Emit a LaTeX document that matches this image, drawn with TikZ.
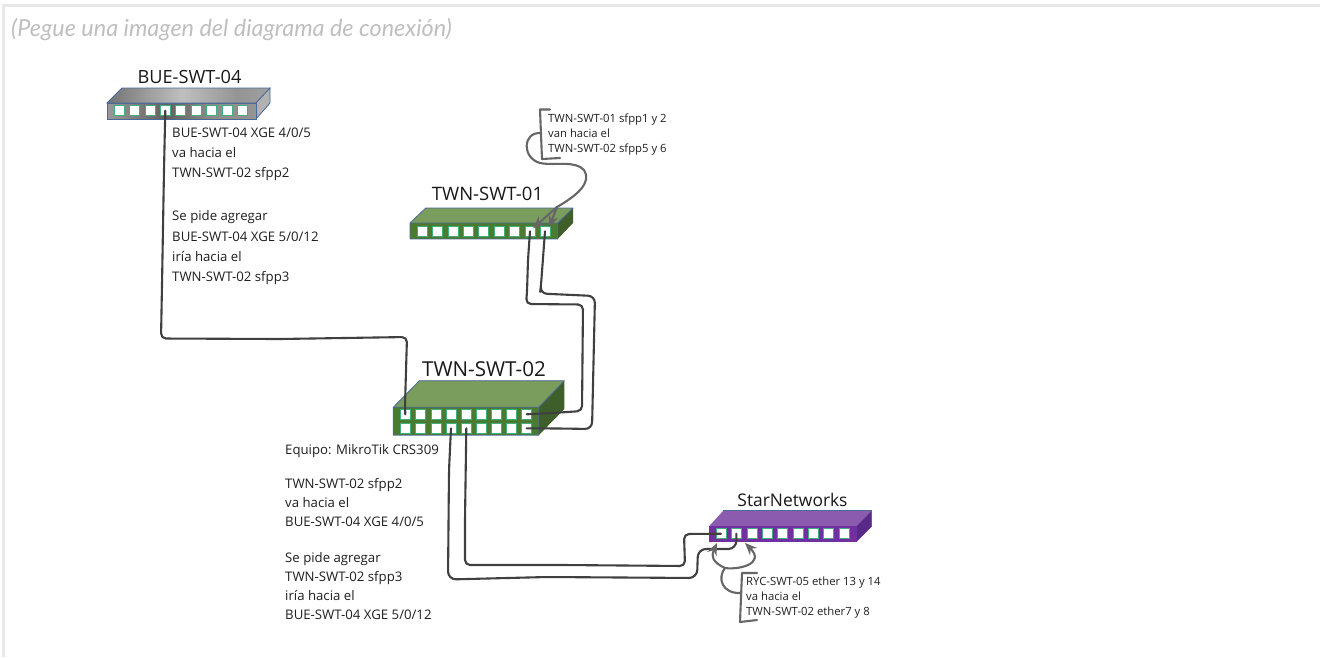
\documentclass[tikz,border=0pt]{standalone}
\usepackage{fontspec}
\setmainfont{Open Sans}
\newfontfamily\latofont{Lato}
\usetikzlibrary{arrows.meta}
\definecolor{portedge}{HTML}{3FAF7B}
\definecolor{gtop}{HTML}{7A9C5C}
\definecolor{gfront}{HTML}{4B7B30}
\definecolor{gside}{HTML}{3F5F2A}
\definecolor{ptop}{HTML}{8B5BB0}
\definecolor{pfront}{HTML}{7030A0}
\definecolor{pside}{HTML}{59298A}
\definecolor{boxedge}{HTML}{4A6A9A}
\definecolor{cablecol}{HTML}{404040}
\pgfdeclarehorizontalshading{metaltop}{100bp}{color(0bp)=(black!22); color(25bp)=(black!55); color(48bp)=(black!25); color(65bp)=(black!42); color(85bp)=(black!32); color(100bp)=(black!18)}
\pgfdeclarehorizontalshading{metalfront}{100bp}{color(0bp)=(black!22); color(25bp)=(black!40); color(45bp)=(black!62); color(60bp)=(black!45); color(85bp)=(black!40); color(100bp)=(black!22)}
\tikzset{
  port/.style={draw=portedge,fill=white,line width=0.6pt,minimum size=10pt,inner sep=0pt,outer sep=0pt},
  swedge/.style={draw=boxedge,line width=0.8pt,line join=round},
  cable/.style={draw=cablecol,line width=2.1pt,line cap=round,line join=round,rounded corners=5pt},
  wavy/.style={draw=cablecol!80,line width=2.1pt,line cap=round,line join=round},
  tip/.style={-{Stealth[length=12pt,width=10pt]}},
  title/.style={text=black!90,inner sep=0pt,anchor=center},
  note/.style={text=black!88,inner sep=0pt,anchor=north west,align=left},
}
\begin{document}
\begin{tikzpicture}[x=1pt,y=-1pt]
\useasboundingbox (0,0) rectangle (1320,657);
\fill[white] (0,0) rectangle (1320,657);
\draw[black!9,line width=2.5pt] (1320,5.5) -- (3.5,5.5) -- (3.5,657);
\node[anchor=west,inner sep=0pt,text=black!25,font=\latofont\itshape\fontsize{23.4}{28}\selectfont] (hdr) at (11,30) {(Pegue una imagen del diagrama de conexión)};

% BUE-SWT-04
\shade[shading=metaltop,draw=boxedge,line width=.8pt] (122,88) -- (270,88) -- (256,103) -- (107,103) -- cycle;
\fill[black!30] (256,103) -- (270,88) -- (270,103) -- (256,119) -- cycle;
\draw[swedge] (256,103) -- (270,88) -- (270,103) -- (256,119);
\shade[shading=metalfront,draw=boxedge,line width=.8pt] (107,103) rectangle (256,119);
\foreach \i/\x in {1/119.3,2/134.7,3/150,4/165.3,5/180.7,6/196,7/211.7,8/227,9/242.3}
  \node[port] (bue\i) at (\x,110.7) {};
\node[title,font=\fontsize{18.2}{22}\selectfont] (buet) at (189.5,77) {BUE-SWT-04};

% TWN-SWT-01
\fill[gtop] (425.7,208) -- (573,208) -- (557.7,223) -- (410,223) -- cycle;
\fill[gside] (557.7,223) -- (573,208) -- (573,223) -- (557.7,239) -- cycle;
\fill[gfront] (410,223) rectangle (557.7,239);
\draw[swedge] (410,223) rectangle (557.7,239) (410,223) -- (425.7,208) -- (573,208) -- (557.7,223);
\foreach \i/\x in {1/422.3,2/437.7,3/453,4/468.3,5/483.7,6/499,7/514.3,8/530,9/545}
  \node[port] (one\i) at (\x,231.3) {};
\node[title,font=\fontsize{18.5}{22}\selectfont] (onet) at (487.5,194) {TWN-SWT-01};

% TWN-SWT-02
\fill[gtop] (419.3,380.7) -- (564.3,380.7) -- (538.7,407.3) -- (393.3,407.3) -- cycle;
\fill[gside] (538.7,407.3) -- (564.3,380.7) -- (564.3,409) -- (538.7,435.3) -- cycle;
\fill[gfront] (393.3,407.3) rectangle (538.7,435.3);
\draw[swedge] (393.3,407.3) rectangle (538.7,435.3) (393.3,407.3) -- (419.3,380.7) -- (564.3,380.7) -- (538.7,407.3);
\foreach \i/\x in {1/405.3,2/420.7,3/436,4/451,5/466.3,6/481,7/496.3,8/511.3,9/526.7} {
  \node[port] (twoa\i) at (\x,414.3) {};
  \node[port] (twob\i) at (\x,428.3) {};
}
\node[title,font=\fontsize{20.6}{24}\selectfont] (twot) at (484,369) {TWN-SWT-02};

% StarNetworks
\fill[ptop] (723.3,510.7) -- (871.7,510.7) -- (856.7,526) -- (709.3,526) -- cycle;
\fill[pside] (856.7,526) -- (871.7,510.7) -- (871.7,526.7) -- (856.7,541.7) -- cycle;
\fill[pfront] (709.3,526) rectangle (856.7,541.7);
\draw[boxedge,line width=.6pt] (723.3,510.7) -- (871.7,510.7) -- (871.7,526.7);
\foreach \i/\x in {1/721,2/736.3,3/752,4/767.3,5/782.7,6/798,7/813.3,8/828.7,9/844}
  \node[port] (star\i) at (\x,533.7) {};
\node[title,font=\fontsize{17.4}{20}\selectfont] (start) at (792.5,500) {StarNetworks};

% Cables
\draw[cable] (bue4.center) -- (164,170) -- (162,285) -- (161,338.5) -- (280,339) -- (407,337) -- (405,405) -- (twoa1.center);
\draw[cable] (one8.center) -- (528,260) -- (527,292) -- (526,304) -- (583,304.5) -- (582,411) -- (560,412.5) -- (twoa9.center);
\draw[cable,rounded corners=7pt] (one9.center) -- (541,285) -- (540,293.5) -- (595,296) -- (592,429) -- (560,428.5) -- (twob9.center);
\draw[cable,rounded corners=8pt] (twob4.center) -- (449,470) -- (448,579.5) -- (547,577) -- (697,578) -- (698,549) -- (736.3,549) -- (star2.center);
\draw[cable] (twob5.center) -- (465,520) -- (465,565) -- (563,565) -- (685,566) -- (684,534) -- (star1.center);

% Notes
\node[note,font=\fontsize{13.2}{20.3}\selectfont] (nbue1) at (172,127.5) {BUE-SWT-04 XGE 4/0/5\\va hacia el\\TWN-SWT-02 sfpp2};
\node[note,font=\fontsize{13.2}{20.3}\selectfont] (nbue2) at (172,210.5) {Se pide agregar\\BUE-SWT-04 XGE 5/0/12\\iría hacia el\\TWN-SWT-02 sfpp3};
\node[note,font=\fontsize{11.3}{15}\selectfont] (none) at (548,114) {TWN-SWT-01 sfpp1 y 2\\van hacia el\\TWN-SWT-02 sfpp5 y 6};
\node[note,font=\fontsize{13.2}{19}\selectfont] (ntwo0) at (285,444.5) {Equipo: MikroTik CRS309};
\node[note,font=\fontsize{13.2}{19}\selectfont] (ntwo1) at (285,478.5) {TWN-SWT-02 sfpp2\\va hacia el\\BUE-SWT-04 XGE 4/0/5};
\node[note,font=\fontsize{13.2}{19}\selectfont] (ntwo2) at (285,552) {Se pide agregar\\TWN-SWT-02 sfpp3\\iría hacia el\\BUE-SWT-04 XGE 5/0/12};
\node[note,font=\fontsize{11.3}{15}\selectfont] (nstar) at (746,577) {RYC-SWT-05 ether 13 y 14\\va hacia el\\TWN-SWT-02 ether7 y 8};

% TWN-SWT-01 bracket
\coordinate (ba) at (550,109.5);
\coordinate (bb) at (560,158);
\coordinate (bm) at (541,133);
\coordinate (sp) at (557,207);
\draw[wavy] (ba) -- (540,109.5) -- (542,159) -- (bb);
\draw[wavy] (bm) .. controls (522,132) and (522,158) .. (540,163) .. controls (555,166) and (575,160) .. (584,170) .. controls (592,182) and (578,195) .. (sp);
\draw[wavy,tip] (sp) -- ([xshift=3pt,yshift=-2pt]one8.north);
\draw[wavy,tip] (sp) -- ([xshift=4pt,yshift=-1pt]one9.north);

% StarNetworks bracket
\coordinate (sa) at (757,573);
\coordinate (sb) at (757,620);
\coordinate (sm) at (741,593);
\coordinate (sq) at (725,568);
\coordinate (ta) at (717,543);
\coordinate (tb) at (745,543);
\draw[wavy] (sa) -- (742,573) -- (740,622) -- (sb);
\draw[wavy] (sm) .. controls (722,594) and (717,578) .. (sq);
\draw[wavy,tip] (sq) .. controls (712,562) and (711,556) .. (ta);
\draw[wavy,tip] (sq) .. controls (738,570) and (766,564) .. (tb);
\end{tikzpicture}
\end{document}
